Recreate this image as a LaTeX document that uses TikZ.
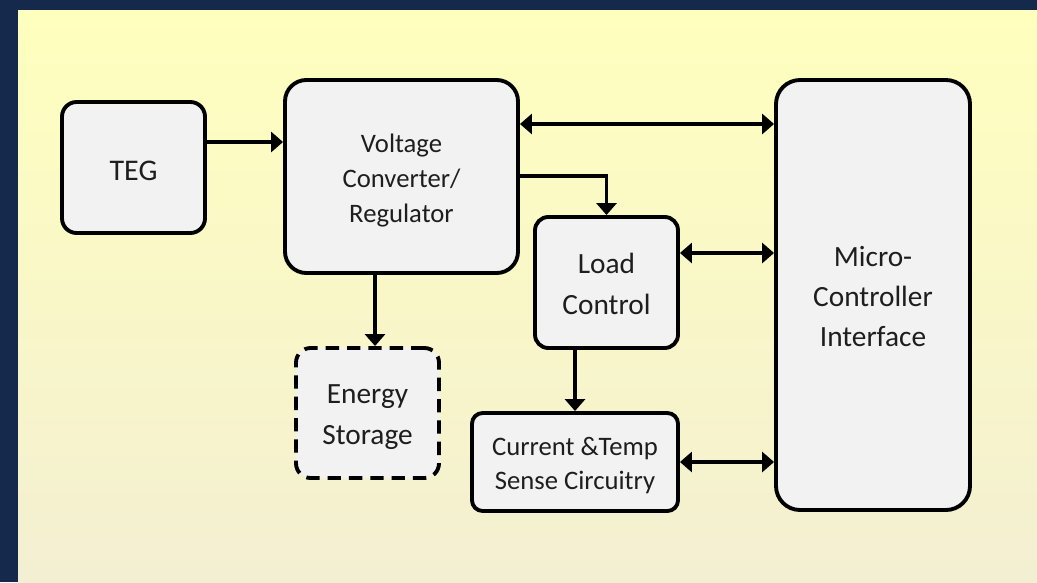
\documentclass[tikz,border=0pt]{standalone}
\usepackage{fontspec}
\setmainfont{Carlito}
\usetikzlibrary{arrows.meta}
\definecolor{navy}{HTML}{14294B}
\definecolor{bgtop}{HTML}{FFFFBE}
\definecolor{bgbot}{HTML}{F3EFD2}
\definecolor{boxfill}{HTML}{F2F2F2}
\definecolor{txt}{HTML}{1E1E1E}
\tikzset{
  blk/.style={draw=black, line width=2.9pt, fill=boxfill, inner sep=0pt},
  lbl/.style={inner sep=0pt, align=center, text=txt, font=\fontsize{22}{30.75}\selectfont},
  conn/.style={line width=2.9pt, -{Triangle[length=9pt,width=15pt]}},
  bconn/.style={line width=2.9pt, {Triangle[length=9pt,width=15pt]}-{Triangle[length=9pt,width=15pt]}}
}
\begin{document}
\begin{tikzpicture}[x=0.75pt,y=-0.75pt]
\useasboundingbox (0,0) rectangle (1037,582);
\fill[navy] (0,0) rectangle (1037,582);
\shade[top color=bgtop, bottom color=bgbot] (18,10) rectangle (1037,582);

\node[blk, rounded corners=11pt, minimum width=107.25pt, minimum height=98.25pt] (teg) at (133.5,167.5) {};
\node[blk, rounded corners=16pt, minimum width=174.75pt, minimum height=144.75pt] (volt) at (401.5,176.5) {};
\node[blk, rounded corners=10pt, minimum width=107.25pt, minimum height=98.25pt] (load) at (606.5,282.5) {};
\node[blk, rounded corners=18pt, minimum width=145.5pt, minimum height=322.5pt] (mcu) at (873,295) {};
\node[blk, dash pattern=on 10pt off 6pt, rounded corners=11pt, minimum width=107.25pt, minimum height=97.5pt] (ener) at (367.5,413) {};
\node[blk, rounded corners=8pt, minimum width=154.5pt, minimum height=73.5pt] (cur) at (575,462) {};

\node[lbl, font=\fontsize{22.5}{30}\selectfont] (tegt) at ([yshift=-2.2pt]teg.center) {TEG};
\node[lbl, font=\fontsize{20}{26}\selectfont] (voltt) at ([yshift=-3pt]volt.center) {Voltage\\Converter/\\Regulator};
\node[lbl] (loadt) at ([yshift=-1.1pt]load.center) {Load\\Control};
\node[lbl, font=\fontsize{22}{30}\selectfont] (mcut) at ([yshift=-1.1pt]mcu.center) {Micro-\\Controller\\Interface};
\node[lbl] (enert) at ([yshift=-3.4pt]ener.center) {Energy\\Storage};
\node[lbl, font=\fontsize{20}{25.5}\selectfont] (curt) at ([yshift=-3pt]cur.center) {Current \&Temp\\Sense Circuitry};

\coordinate (y142) at (0,142);
\coordinate (y124) at (0,124);
\coordinate (y176) at (0,176);
\coordinate (y253) at (0,253);
\coordinate (x375) at (375,0);

\draw[conn] (teg.east |- y142) -- (volt.west |- y142);
\draw[bconn] (volt.east |- y124) -- (mcu.west |- y124);
\draw[conn] (volt.east |- y176) -| (load.north);
\draw[bconn] (load.east |- y253) -- (mcu.west |- y253);
\draw[conn] (volt.south -| x375) -- (ener.north -| x375);
\draw[conn] (load.south -| cur.north) -- (cur.north);
\draw[bconn] (cur.east) -- (cur.east -| mcu.west);
\end{tikzpicture}
\end{document}
